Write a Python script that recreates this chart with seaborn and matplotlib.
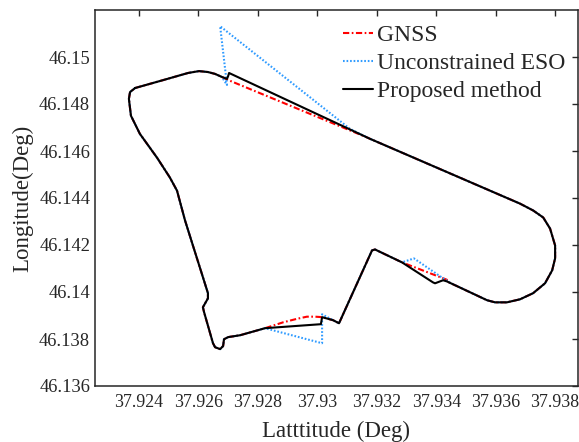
import matplotlib
matplotlib.use("Agg")
import matplotlib.pyplot as plt
from matplotlib.ticker import FuncFormatter
import numpy as np
import pandas as pd
import seaborn as sns

# Proposed-method track (closed loop), latitude / longitude in degrees
proposed_lat = [37.92387, 37.92471, 37.92565, 37.92602, 37.92632, 37.92656, 37.92679,
                37.92696, 37.92700, 37.92703, 37.93177, 37.93682, 37.93726, 37.93760,
                37.93783, 37.93800, 37.93800, 37.93790, 37.93766, 37.93726, 37.93682,
                37.93638, 37.93598, 37.93571, 37.93436, 37.93423, 37.93396, 37.93389,
                37.93285, 37.93194, 37.93184, 37.93073, 37.93053, 37.93016, 37.93012,
                37.92824, 37.92740, 37.92700, 37.92686, 37.92683, 37.92673, 37.92656,
                37.92649, 37.92619, 37.92615, 37.92632, 37.92632, 37.92555, 37.92528,
                37.92504, 37.92461, 37.92403, 37.92373, 37.92366, 37.92370, 37.92387]
proposed_lon = [46.14868, 46.14898, 46.14932, 46.14940, 46.14936, 46.14928, 46.14915,
                46.14907, 46.14919, 46.14932, 46.14652, 46.14376, 46.14347, 46.14317,
                46.14270, 46.14198, 46.14143, 46.14092, 46.14037, 46.13995, 46.13969,
                46.13956, 46.13956, 46.13965, 46.14045, 46.14050, 46.14037, 46.14041,
                46.14126, 46.14181, 46.14177, 46.13867, 46.13880, 46.13893, 46.13863,
                46.13846, 46.13816, 46.13808, 46.13799, 46.13770, 46.13757, 46.13765,
                46.13782, 46.13914, 46.13935, 46.13973, 46.13995, 46.14304, 46.14431,
                46.14487, 46.14571, 46.14673, 46.14750, 46.14822, 46.14851, 46.14868]

# GNSS fixes where they depart from the fused track
gnss_a_lat = [37.92679, 37.92700, 37.93161]
gnss_a_lon = [46.14915, 46.14902, 46.14661]
gnss_c_lat = [37.93436]
gnss_c_lon = [46.14052]
gnss_b_lat = [37.92992, 37.92965, 37.92932, 37.92885]
gnss_b_lon = [46.13895, 46.13895, 46.13886, 46.13871]

# Unconstrained ESO estimates where they depart from the fused track
eso_a_lat = [37.92679, 37.92696, 37.92673, 37.93110]
eso_a_lon = [46.14915, 46.14881, 46.15131, 46.14694]
eso_c_lat = [37.93447, 37.93413, 37.93325]
eso_c_lon = [46.14039, 46.14067, 46.14143]
eso_b_lat = [37.93016, 37.93016]
eso_b_lon = [46.13905, 46.13782]

x_ticks = [37.924, 37.926, 37.928, 37.93, 37.932, 37.934, 37.936, 37.938]
y_ticks = [46.136, 46.138, 46.14, 46.142, 46.144, 46.146, 46.148, 46.15]


def splice(base, pieces):
    """Replace index ranges [i, j) of base with new point lists."""
    out = []
    pos = 0
    for i, j, seg in pieces:
        out += base[pos:i] + seg
        pos = j
    return out + base[pos:]


# GNSS: replace the notch on the north leg, the step at 37.934 and the arc near 37.929
gnss_lat = splice(proposed_lat, [(6, 10, gnss_a_lat), (25, 28, gnss_c_lat), (34, 35, gnss_b_lat)])
gnss_lon = splice(proposed_lon, [(6, 10, gnss_a_lon), (25, 28, gnss_c_lon), (34, 35, gnss_b_lon)])
# ESO: overshoots at the same three places
eso_lat = splice(proposed_lat, [(6, 10, eso_a_lat), (24, 28, eso_c_lat), (33, 35, eso_b_lat)])
eso_lon = splice(proposed_lon, [(6, 10, eso_a_lon), (24, 28, eso_c_lon), (33, 35, eso_b_lon)])

frames = []
for name, la, lo in [("GNSS", gnss_lat, gnss_lon),
                     ("Unconstrained ESO", eso_lat, eso_lon),
                     ("Proposed method", proposed_lat, proposed_lon)]:
    frames.append(pd.DataFrame({"lat": la, "lon": lo, "series": name, "order": np.arange(len(la))}))
df = pd.concat(frames, ignore_index=True)

sns.set_theme(style="white")
plt.rcParams["font.family"] = ["Liberation Serif", "DejaVu Serif"]
plt.rcParams["mathtext.fontset"] = "stix"

fig = plt.figure(figsize=(5.79, 4.42), dpi=100)
ax = fig.add_axes([95 / 579, 56 / 442, 483 / 579, 376 / 442])

styles = {
    "GNSS": dict(color="#ff0000", dashes=(3.0, 1.2, 0.8, 1.2)),
    "Unconstrained ESO": dict(color="#2f9bff", dashes=(0.8, 0.9)),
    "Proposed method": dict(color="black", dashes=None),
}
for name in ["GNSS", "Unconstrained ESO", "Proposed method"]:
    sub = df[df["series"] == name]
    st = styles[name]
    line_kw = {}
    if st["dashes"] is not None:
        line_kw["dashes"] = st["dashes"]
    sns.lineplot(data=sub, x="lat", y="lon", sort=False, estimator=None, ax=ax,
                 color=st["color"], lw=1.5, label=name, **line_kw)

ax.set_xlim(37.92252, 37.93877)
ax.set_ylim(46.136, 46.152)
ax.set_xticks(x_ticks)
ax.set_yticks(y_ticks)
fmt = FuncFormatter(lambda v, p: f"{v:g}")
ax.xaxis.set_major_formatter(fmt)
ax.yaxis.set_major_formatter(fmt)

ax.tick_params(direction="in", length=4, width=1.0, top=True, right=True,
               labelsize=13.3, colors="#262626", labelcolor="#262626")
ax.tick_params(axis="x", pad=6, labelsize=12.9)
ax.tick_params(axis="y", pad=3.5)
for sp in ax.spines.values():
    sp.set_color("#262626")
    sp.set_linewidth(1.1)

ax.set_xlabel("Latttitude (Deg)", fontsize=16.5, color="#262626", labelpad=6.5)
ax.set_ylabel("Longitude(Deg)", fontsize=16.5, color="#262626", labelpad=4)

leg = ax.legend(loc="upper left", bbox_to_anchor=(0.5135, 0.961), frameon=False,
                fontsize=17, handlelength=1.27, handletextpad=0.17, labelspacing=0.28,
                borderpad=0, borderaxespad=0)

fig.savefig("out.png", dpi=100)
